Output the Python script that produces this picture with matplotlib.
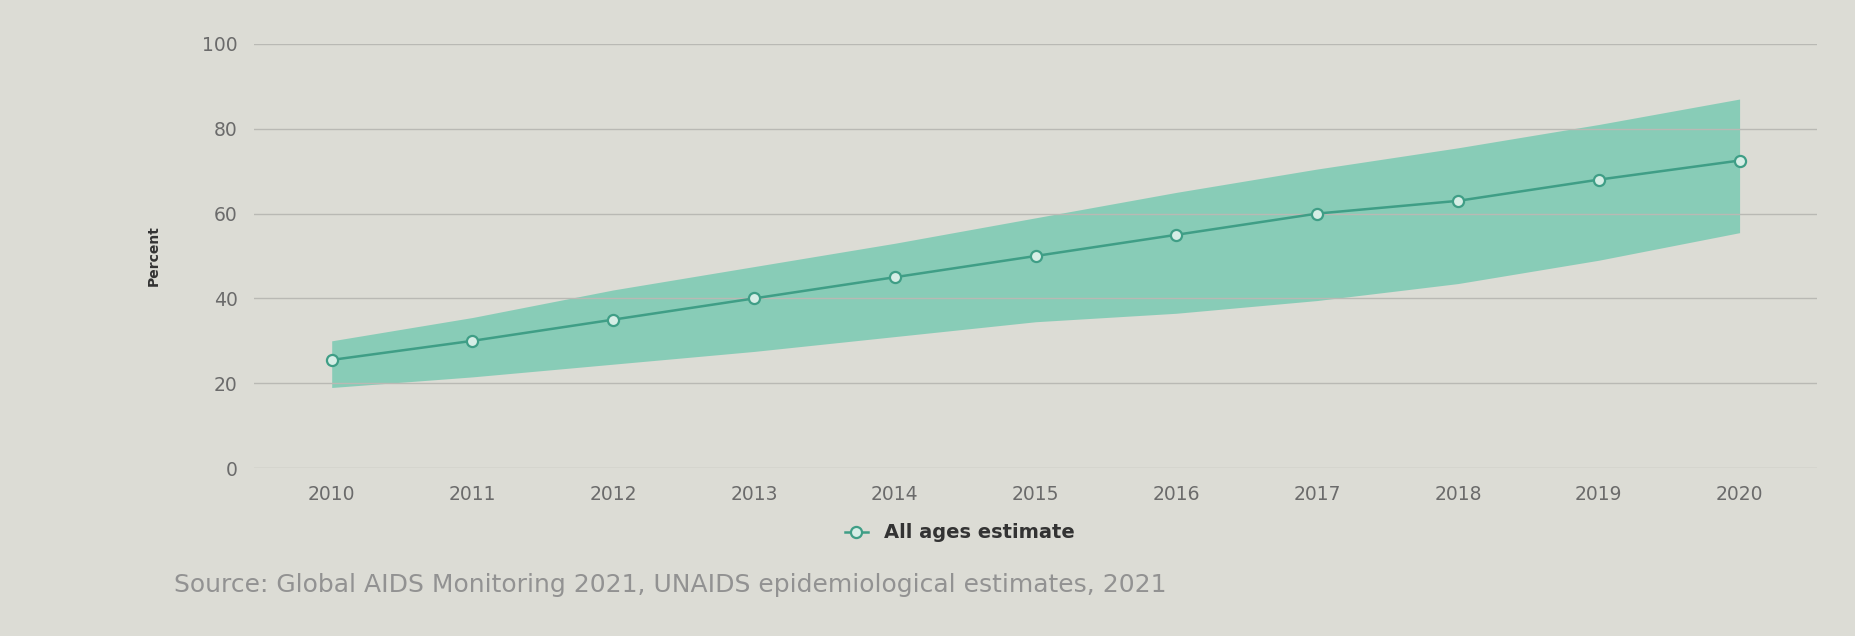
import matplotlib.pyplot as plt
import numpy as np

# values
years = ["2010", "2011", "2012", "2013", "2014", "2015", "2016", "2017", "2018", "2019", "2020"]
estimate = [25.5, 30, 35, 40, 45, 50, 55, 60, 63, 68, 72.5]
upper = [30, 35.5, 42, 47.5, 53, 59, 65, 70.5, 75.5, 81, 87]
lower = [19, 21.5, 24.5, 27.5, 31, 34.5, 36.5, 39.5, 43.5, 49, 55.5]
yticks = [0, 20, 40, 60, 80, 100]

line_col = "#3f9e86"
band_col = "#5cc4a7"

fig = plt.figure(figsize=(18.56, 6.36), dpi=100)
fig.patch.set_facecolor("#dcdcd5")
ax = fig.add_axes([0.137, 0.264, 0.842, 0.667])
ax.set_facecolor("none")

x = np.arange(len(years))
ax.fill_between(x, lower, upper, color=band_col, alpha=0.65, linewidth=0)
ax.plot(x, estimate, color=line_col, linewidth=1.8, marker="o", markersize=8,
        markerfacecolor="#d6eee6", markeredgecolor=line_col, markeredgewidth=1.6,
        label="All ages estimate")

ax.set_xlim(-0.55, len(years) - 0.45)
ax.set_ylim(0, 100)
ax.set_xticks(x)
ax.set_xticklabels(years)
ax.set_yticks(yticks)
ax.tick_params(axis="both", length=0, labelsize=13.5, labelcolor="#6b6b6b")
ax.tick_params(axis="y", pad=12)
ax.tick_params(axis="x", pad=12)
ax.grid(axis="y", color="#b9b9b4", linewidth=1)
for s in ax.spines.values():
    s.set_visible(False)

ax.set_ylabel("Percent", fontsize=10, fontweight="bold", color="#333333", labelpad=30)

leg = fig.legend(loc="center", bbox_to_anchor=(0.517, 0.162), frameon=False,
                 prop={"size": 14, "weight": "bold"}, handlelength=1.2)
for t in leg.get_texts():
    t.set_color("#333333")

fig.text(0.094, 0.08, "Source: Global AIDS Monitoring 2021, UNAIDS epidemiological estimates, 2021",
         fontsize=18, color="#929292", va="center")

fig.savefig("out.png", dpi=100, facecolor=fig.get_facecolor())
